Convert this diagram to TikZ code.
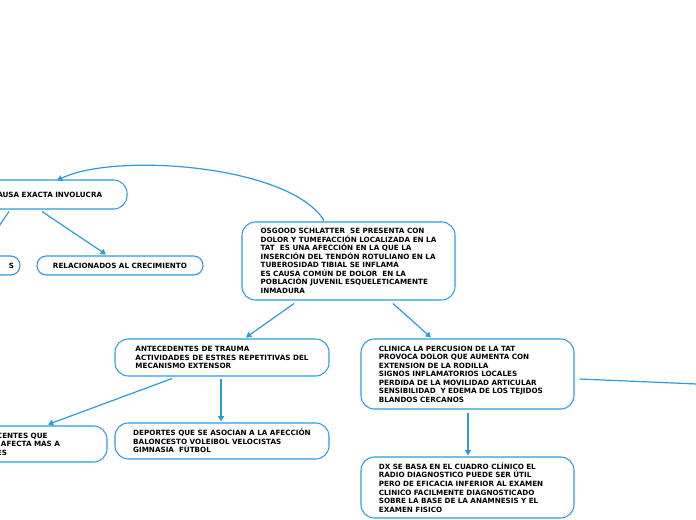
\documentclass[tikz,border=0pt]{standalone}
\usepackage{fontspec}
\setmainfont{DejaVu Sans}
\usetikzlibrary{arrows.meta}
\definecolor{mmblue}{HTML}{2D9BDE}
\tikzset{
  bubble/.style={draw=mmblue, line width=0.8pt, rounded corners=10pt,
    font=\bfseries\fontsize{5.4}{6.4}\selectfont, align=left, inner ysep=0pt},
  link/.style={draw=mmblue, line width=0.9pt, -{Triangle[length=4pt,width=4.5pt]}},
}

\begin{document}
\begin{tikzpicture}[x=0.75pt,y=-0.75pt] % one unit = one pixel
  \useasboundingbox (0,0) rectangle (696,520);
  \clip (0,0) rectangle (696,520);
  % bubbles
  \node[bubble, minimum width=159.75pt, minimum height=58.5pt] (cen) at (348.5,261)
    {OSGOOD SCHLATTER\ \ SE PRESENTA CON\\DOLOR Y TUMEFACCIÓN LOCALIZADA EN LA\\TAT\ \ ES UNA AFECCIÓN EN LA QUE LA\\INSERCIÓN DEL TENDÓN ROTULIANO EN LA\\TUBEROSIDAD TIBIAL SE INFLAMA\\ES CAUSA COMÚN DE DOLOR\ \ EN LA\\POBLACIÓN JUVENIL ESQUELETICAMENTE\\INMADURA};
  \node[bubble, text width=90pt, inner xsep=11.25pt, minimum height=21.75pt] (tl) at (52,194.5)
    {CAUSA EXACTA INVOLUCRA};
  \node[bubble, text width=36pt, inner xsep=4.5pt, minimum height=14.25pt, align=right, rounded corners=7pt] (s) at (-10,265.5)
    {S};
  \node[bubble, text width=108.5pt, inner xsep=8pt, minimum height=14.25pt, align=center, rounded corners=7pt] (rel) at (120,265.5)
    {RELACIONADOS AL CRECIMIENTO};
  \node[bubble, minimum width=160.5pt, minimum height=27.75pt] (ant) at (222,357.5)
    {ANTECEDENTES DE TRAUMA\\ACTIVIDADES DE ESTRES REPETITIVAS DEL\\MECANISMO EXTENSOR};
  \node[bubble, minimum width=160.5pt, minimum height=27pt] (dep) at (222,441)
    {DEPORTES QUE SE ASOCIAN A LA AFECCIÓN\\BALONCESTO VOLEIBOL VELOCISTAS\\GIMNASIA\ \ FÚTBOL};
  \node[bubble, text width=75pt, inner xsep=7.5pt, minimum height=27pt] (bl) at (47,444)
    {CENTES QUE\\\hspace*{3pt}AFECTA MAS A\\ES};
  \node[bubble, text width=133pt, inner xsep=13.375pt, minimum height=52.5pt] (clin) at (467.5,374)
    {CLINICA LA PERCUSION DE LA TAT\\PROVOCA DOLOR QUE AUMENTA CON\\EXTENSION DE LA RODILLA\\SIGNOS INFLAMATORIOS LOCALES\\PERDIDA DE LA MOVILIDAD ARTICULAR\\SENSIBILIDAD\ \ Y EDEMA DE LOS TEJIDOS\\BLANDOS CERCANOS};
  \node[bubble, text width=133pt, inner xsep=13.375pt, minimum height=45.75pt] (dx) at (467.5,487.5)
    {DX SE BASA EN EL CUADRO CLÍNICO EL\\RADIO DIAGNOSTICO PUEDE SER ÚTIL\\PERO DE EFICACIA INFERIOR AL EXAMEN\\CLINICO FACILMENTE DIAGNOSTICADO\\SOBRE LA BASE DE LA ANAMNESIS Y EL\\EXAMEN FISICO};
  \coordinate (off) at (720,385);
  % links
  \draw[link] ([shift={(-24.5,-1)}]cen.north) .. controls (290,165) and (115,152) .. ([shift={(5,1)}]tl.north);
  \draw[link] ([shift={(-43,2)}]tl.south) -- ([shift={(-9,-3)}]s.north);
  \draw[link] ([shift={(-10,2)}]tl.south) -- ([shift={(-14,-1)}]rel.north);
  \draw[link] ([shift={(-54.5,3)}]cen.south) -- ([shift={(24,-1)}]ant.north);
  \draw[link] ([shift={(44.5,3)}]cen.south) -- ([shift={(-36.5,-1)}]clin.north);
  \draw[link] ([shift={(-50,2)}]ant.south) -- ([shift={(1,-1)}]bl.north);
  \draw[link] ([shift={(-1,2)}]ant.south) -- ([shift={(-1,-1)}]dep.north);
  \draw[link] ([shift={(0.5,3)}]clin.south) -- ([shift={(0.5,-1)}]dx.north);
  \draw[link] ([shift={(5,5)}]clin.east) -- (off);
\end{tikzpicture}
\end{document}
